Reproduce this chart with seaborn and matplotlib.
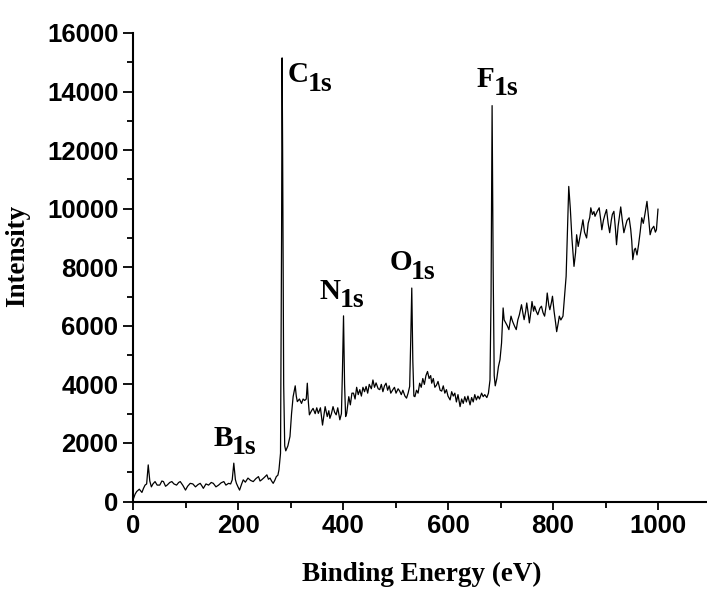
import matplotlib
matplotlib.use("Agg")
import matplotlib.pyplot as plt
import matplotlib.ticker as ticker
import seaborn as sns
import pandas as pd

# ── XPS survey spectrum ─────────────────────────────────────────────────────
energy = [
    0, 4, 7, 12, 17, 20, 23, 26, 29, 32, 35, 38, 42, 46, 51, 55, 58, 62, 65, 70,
    74, 78, 83, 87, 90, 95, 100, 104, 109, 114, 119, 124, 128, 131, 134, 139, 144, 149, 153, 158,
    163, 168, 173, 177, 182, 186, 189, 192, 195, 197, 200, 203, 207, 210, 214, 219, 224, 229, 234, 239,
    242, 245, 250, 255, 258, 261, 264, 267, 270, 273, 276, 278, 281, 283, 284, 285, 287, 289, 291, 295,
    299, 302, 305, 309, 311, 313, 317, 321, 324, 327, 330, 332, 334, 336, 340, 343, 347, 350, 353, 357,
    361, 364, 366, 370, 373, 375, 378, 381, 384, 387, 390, 394, 397, 399, 401, 403, 405, 407, 411, 414,
    417, 420, 423, 426, 429, 432, 435, 438, 441, 444, 447, 450, 454, 457, 460, 463, 467, 470, 473, 476,
    479, 482, 485, 488, 491, 495, 498, 501, 505, 508, 511, 514, 518, 521, 524, 527, 529, 531, 533, 535,
    537, 540, 543, 546, 549, 552, 555, 558, 561, 564, 567, 569, 572, 575, 578, 581, 585, 588, 591, 594,
    597, 600, 604, 607, 610, 613, 616, 619, 623, 626, 629, 632, 635, 638, 642, 645, 648, 651, 654, 657,
    660, 664, 667, 670, 674, 677, 680, 682, 684, 686, 688, 690, 693, 696, 699, 702, 705, 707, 710, 713,
    716, 720, 723, 727, 730, 733, 736, 740, 743, 745, 748, 750, 753, 755, 758, 760, 763, 765, 768, 771,
    775, 778, 781, 784, 787, 789, 792, 794, 797, 799, 802, 805, 807, 810, 812, 815, 819, 822, 825, 828,
    830, 833, 836, 840, 843, 845, 848, 851, 854, 857, 860, 864, 867, 870, 872, 875, 878, 880, 884, 888,
    891, 893, 896, 899, 902, 905, 908, 911, 913, 916, 919, 921, 924, 927, 929, 932, 935, 938, 941, 945,
    948, 950, 952, 955, 957, 960, 963, 966, 969, 972, 975, 979, 982, 985, 988, 992, 995, 997, 1000,
]
intensity = [
    50, 250, 340, 420, 310, 450, 560, 600, 1250, 700, 500, 600, 680, 560, 560, 700, 680, 520, 560, 650,
    680, 600, 560, 650, 680, 550, 390, 520, 620, 600, 500, 580, 620, 540, 450, 600, 560, 650, 620, 500,
    560, 640, 680, 560, 620, 600, 740, 1310, 750, 620, 500, 390, 600, 740, 660, 800, 720, 680, 780, 850,
    700, 740, 820, 910, 760, 800, 700, 620, 720, 850, 900, 1080, 1650, 9000, 15150, 12000, 4000, 1900, 1730, 1900,
    2220, 3000, 3580, 3950, 3600, 3410, 3500, 3350, 3500, 3450, 3500, 4040, 3400, 2960, 3100, 3180, 3000, 3200, 3010, 3200,
    2610, 3000, 3240, 2900, 3100, 2840, 3000, 3240, 3050, 2960, 3200, 2790, 3000, 4500, 6340, 4000, 2900, 3010, 3580, 3300,
    3700, 3700, 3500, 3900, 3650, 3820, 3600, 3900, 3750, 3930, 3700, 4000, 3850, 4150, 3900, 4050, 3850, 3820, 4000, 3750,
    3950, 4040, 3800, 3950, 3700, 3820, 3900, 3700, 3850, 3770, 3650, 3800, 3600, 3530, 3700, 3930, 5500, 7290, 4800, 3600,
    3580, 3800, 3700, 4040, 3900, 4200, 4000, 4300, 4440, 4200, 4300, 4040, 4200, 3900, 3970, 4100, 3800, 3770, 3950, 3700,
    3820, 3600, 3470, 3750, 3600, 3700, 3400, 3650, 3240, 3500, 3350, 3580, 3400, 3600, 3300, 3550, 3400, 3650, 3470, 3600,
    3500, 3700, 3580, 3650, 3550, 3700, 4150, 7000, 13520, 8000, 4300, 3950, 4200, 4600, 4840, 5410, 6610, 6200, 6100, 6000,
    5870, 6330, 6150, 5980, 5870, 6200, 6380, 6720, 6400, 6210, 6500, 6780, 6400, 6100, 6500, 6830, 6500, 6670, 6500, 6380,
    6600, 6670, 6450, 6330, 6700, 7120, 6700, 6550, 6800, 7010, 6500, 6100, 5800, 6100, 6330, 6200, 6330, 7000, 7690, 9500,
    10760, 10000, 9000, 8030, 8500, 9110, 8710, 9000, 9300, 9620, 9200, 9000, 9500, 9700, 10030, 9800, 9900, 9740, 9900, 10030,
    9600, 9280, 9600, 9800, 9970, 9500, 9180, 9600, 9800, 9910, 9300, 8770, 9400, 9800, 10060, 9600, 9180, 9400, 9600, 9690,
    9300, 8900, 8260, 8600, 8650, 8420, 8770, 9200, 9690, 9500, 9800, 10250, 9700, 9110, 9300, 9400, 9200, 9280, 9990,
]

# peak labels: element, subscript, label position (x, baseline y)
peak_elem = ["B", "C", "N", "O", "F"]
peak_sub = ["1s", "1s", "1s", "1s", "1s"]
peak_x = [153, 295, 356, 488, 655]
peak_y = [1900, 14310, 6910, 7890, 14160]

df = pd.DataFrame({"energy": energy, "intensity": intensity})

sns.set_style("ticks")
plt.rcParams["font.family"] = ["Liberation Sans", "DejaVu Sans"]
plt.rcParams["text.color"] = "black"
plt.rcParams["axes.labelcolor"] = "black"
plt.rcParams["xtick.color"] = "black"
plt.rcParams["ytick.color"] = "black"

W, H = 707, 599
fig = plt.figure(figsize=(W / 100, H / 100), dpi=100)
ax = fig.add_axes([133 / W, 97.5 / H, 577.5 / W, 468.5 / H])

sns.lineplot(data=df, x="energy", y="intensity", color="black",
             linewidth=0.9, ax=ax, sort=False)

ax.set_xlim(0, 1100)
ax.set_ylim(0, 16000)
ax.xaxis.set_major_locator(ticker.MultipleLocator(200))
ax.xaxis.set_minor_locator(ticker.MultipleLocator(100))
ax.yaxis.set_major_locator(ticker.MultipleLocator(2000))
ax.yaxis.set_minor_locator(ticker.MultipleLocator(1000))
ax.xaxis.set_major_formatter(ticker.FuncFormatter(lambda v, p: f"{v:.0f}" if v <= 1000 else ""))

sns.despine(ax=ax)
for s in ["left", "bottom"]:
    ax.spines[s].set_linewidth(1.5)
    ax.spines[s].set_color("black")

ax.tick_params(axis="both", which="major", direction="out", length=6, width=1.3,
               colors="black", labelsize=18.5, pad=3)
ax.tick_params(axis="y", which="major", length=7.5)
ax.tick_params(axis="both", which="minor", direction="out", length=4, width=1.3, color="black")
for lab in ax.get_xticklabels() + ax.get_yticklabels():
    lab.set_fontweight("bold")

serif = ["Liberation Serif", "DejaVu Serif"]
ax.set_xlabel("Binding Energy (eV)", family=serif, fontweight="bold", fontsize=19.5, color="black")
ax.set_ylabel("Intensity", family=serif, fontweight="bold", fontsize=19.5, color="black")
ax.xaxis.set_label_coords(0.5, -0.128)
ax.yaxis.set_label_coords(-0.178, 0.524)

for el, sub, px, py in zip(peak_elem, peak_sub, peak_x, peak_y):
    t = ax.text(px, py, el, family=serif, fontweight="bold", fontsize=21,
                ha="left", va="baseline", color="black")
    ax.annotate(sub, xy=(1, 0), xycoords=t, xytext=(-0.5, -1.5),
                textcoords="offset points", family=serif, fontweight="bold",
                fontsize=20, ha="left", va="baseline", color="black")

fig.savefig("out.png", dpi=100)
